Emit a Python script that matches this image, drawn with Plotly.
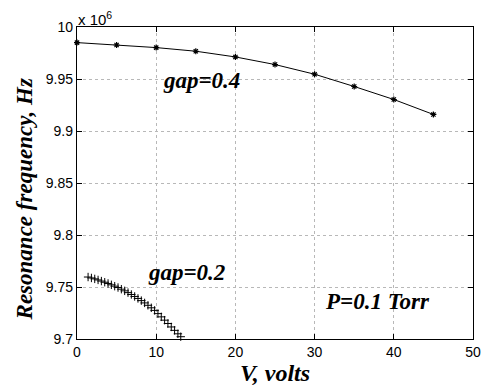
import plotly.graph_objects as go

# gap = 0.4 series (V in volts, frequency in units of 1e6 Hz)
v_gap04 = [0, 5, 10, 15, 20, 25, 30, 35, 40, 45]
f_gap04 = [9.9850, 9.9827, 9.9802, 9.9767, 9.9712, 9.9639, 9.9546, 9.9428, 9.9303, 9.9159]

# gap = 0.2 series
v_gap02 = [1.40, 1.82, 2.24, 2.66, 3.08, 3.50, 3.92, 4.34, 4.76, 5.18,
           5.60, 6.02, 6.44, 6.86, 7.28, 7.70, 8.12, 8.54, 8.96, 9.38,
           9.80, 10.22, 10.64, 11.06, 11.48, 11.90, 12.32, 12.74, 13.10]
f_gap02 = [9.7596, 9.7587, 9.7578, 9.7568, 9.7557, 9.7546, 9.7534, 9.7521, 9.7508, 9.7495,
           9.7479, 9.7463, 9.7446, 9.7428, 9.7409, 9.7390, 9.7369, 9.7347, 9.7324, 9.7300,
           9.7275, 9.7244, 9.7213, 9.7181, 9.7149, 9.7116, 9.7083, 9.7050, 9.7022]

x_ticks = [0, 10, 20, 30, 40, 50]
y_ticks = [9.7, 9.75, 9.8, 9.85, 9.9, 9.95, 10.0]
y_tick_text = ["9.7", "9.75", "9.8", "9.85", "9.9", "9.95", "10"]

serif = "Liberation Serif, Times New Roman, serif"
sans = "Liberation Sans, Arial, Helvetica, sans-serif"

fig = go.Figure()
fig.add_trace(go.Scatter(
    x=v_gap04, y=f_gap04, mode="lines+markers",
    line=dict(color="black", width=1),
    marker=dict(symbol="asterisk-open", size=5, color="black", line=dict(width=1.2, color="black")),
    cliponaxis=False, showlegend=False))
fig.add_trace(go.Scatter(
    x=v_gap02, y=f_gap02, mode="markers",
    marker=dict(symbol="cross-thin-open", size=6, color="black", line=dict(width=1, color="black")),
    cliponaxis=False, showlegend=False))

ann_font = dict(family=serif, size=23, color="black")
fig.add_annotation(x=15.7, y=9.9489, text="<b><i>gap=0.4</i></b>", showarrow=False, font=ann_font)
fig.add_annotation(x=13.8, y=9.7636, text="<b><i>gap=0.2</i></b>", showarrow=False, font=ann_font)
fig.add_annotation(x=38.0, y=9.7363, text="<b><i>P=0.1 Torr</i></b>", showarrow=False, font=ann_font)
fig.add_annotation(xref="paper", yref="paper", x=0, y=1, xanchor="left", yanchor="bottom",
                   text="x 10<sup>6</sup>", showarrow=False,
                   font=dict(family=sans, size=15, color="black"), xshift=-1, yshift=-3)
# y-axis title (as annotation to match its off-centre placement)
fig.add_annotation(xref="paper", yref="y", x=0, y=9.8342, xanchor="center", yanchor="middle",
                   xshift=-53, textangle=-90, text="<b><i>Resonance frequency, Hz</i></b>",
                   showarrow=False, font=dict(family=serif, size=23, color="black"))

axis_common = dict(
    showline=True, linecolor="black", linewidth=1.3, mirror="allticks",
    ticks="inside", ticklen=5, tickcolor="black", tickwidth=1,
    showgrid=True, gridcolor="#b8b8b8", griddash="dot", gridwidth=1,
    zeroline=False, tickfont=dict(family=sans, size=14, color="black"),
    automargin=False,
)
fig.update_xaxes(range=[0, 50], tickvals=x_ticks,
                 title=dict(text="<b><i>V, volts</i></b>", font=dict(family=serif, size=24, color="black"), standoff=5),
                 **axis_common)
fig.update_yaxes(range=[9.7, 10.0], tickvals=y_ticks, ticktext=y_tick_text, **axis_common)

fig.update_layout(width=484, height=388, margin=dict(l=77, r=11, t=27, b=49),
                  plot_bgcolor="white", paper_bgcolor="white")
fig.write_html("out.html", config={"displayModeBar": False},
               post_script="document.body.style.margin='0';document.body.style.overflow='hidden';")
